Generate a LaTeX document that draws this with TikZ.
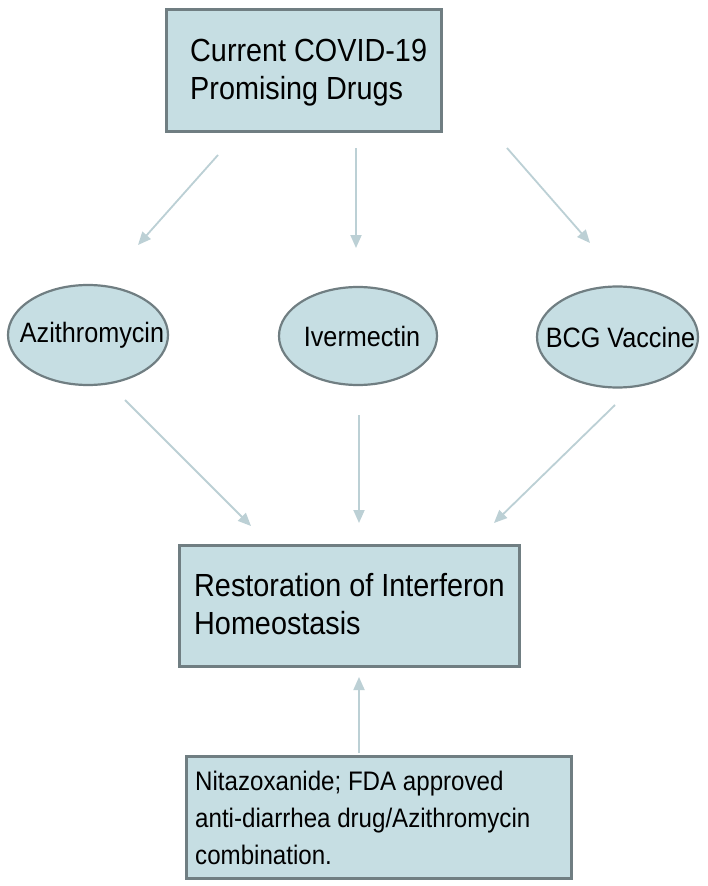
\documentclass[tikz,border=0pt]{standalone}
\usepackage{fontspec}
\setmainfont{Liberation Sans}[FakeStretch=0.9]
\usetikzlibrary{arrows.meta,shapes.geometric}
\definecolor{boxfill}{RGB}{198,222,227}
\definecolor{boxline}{RGB}{112,126,130}
\definecolor{arrowcol}{RGB}{188,208,213}
\tikzset{
  boxshape/.style={draw=boxline, fill=boxfill, line width=3pt, rectangle, anchor=north west, inner sep=0pt},
  ellshape/.style={draw=boxline, fill=boxfill, line width=2.2pt, ellipse, inner sep=0pt},
  elltext/.style={inner sep=0pt, font=\fontsize{28}{32}\selectfont},
  bigtext/.style={anchor=north west, inner sep=0pt, align=left, font=\fontsize{32}{38}\selectfont},
  smalltext/.style={anchor=north west, inner sep=0pt, align=left, font=\fontsize{26.8}{37}\selectfont},
  conn/.style={draw=arrowcol, line width=1.8pt, -{Triangle[length=13pt,width=11pt]}}
}
\begin{document}
\begin{tikzpicture}[x=1pt,y=-1pt]
\useasboundingbox (0,0) rectangle (708,886);
\fill[white] (0,0) rectangle (708,886);
% boxes
\node[boxshape, minimum width=275pt, minimum height=122pt] (top) at (165,8) {};
\node[bigtext] (toptext) at (190,38.5) {Current COVID-19\\Promising Drugs};
\node[boxshape, minimum width=340pt, minimum height=121pt] (rest) at (178,544) {};
\node[bigtext] (resttext) at (194,573.5) {Restoration of Interferon\\Homeostasis};
\node[boxshape, minimum width=385pt, minimum height=122pt] (nita) at (185,755) {};
\node[smalltext] (nitatext) at (195,770.5) {Nitazoxanide; FDA approved\\anti-diarrhea drug/Azithromycin\\combination.};
% ellipses
\node[ellshape, minimum width=160pt, minimum height=100pt, label={[elltext, xshift=4pt]center:Azithromycin}] (azi) at (88,335) {};
\node[ellshape, minimum width=158pt, minimum height=98pt, label={[elltext, xshift=4pt]center:Ivermectin}] (iver) at (358,336) {};
\node[ellshape, minimum width=161pt, minimum height=101pt, label={[elltext, xshift=3pt]center:BCG Vaccine}] (bcg) at (617.5,337) {};
% connector end points
\coordinate (a1s) at (218,155); \coordinate (a1e) at (138,245);
\coordinate (a2s) at (356,148); \coordinate (a2e) at (356,248);
\coordinate (a3s) at (507,148); \coordinate (a3e) at (590,243);
\coordinate (a4s) at (125,400); \coordinate (a4e) at (251,526);
\coordinate (a5s) at (359,415); \coordinate (a5e) at (359,523);
\coordinate (a6s) at (615,405); \coordinate (a6e) at (494,523);
\coordinate (a7s) at (359,753); \coordinate (a7e) at (359,677);
\draw[conn] (a1s) -- (a1e);
\draw[conn] (a2s) -- (a2e);
\draw[conn] (a3s) -- (a3e);
\draw[conn] (a4s) -- (a4e);
\draw[conn] (a5s) -- (a5e);
\draw[conn] (a6s) -- (a6e);
\draw[conn] (a7s) -- (a7e);
\end{tikzpicture}
\end{document}
